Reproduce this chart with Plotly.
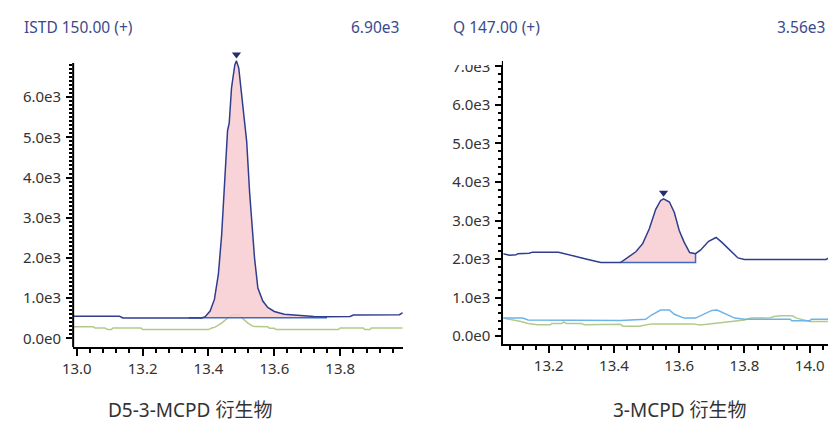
import plotly.graph_objects as go

# ---------------- data ----------------
# Left panel: ISTD 150.00 (+)  (D5-3-MCPD derivative)
left_rt = [12.99, 13.13, 13.14, 13.38, 13.39, 13.405, 13.418, 13.43, 13.44, 13.45, 13.458,
           13.463, 13.47, 13.48, 13.485, 13.492, 13.505, 13.512, 13.516, 13.525, 13.54,
           13.55, 13.565, 13.58, 13.60, 13.63, 13.68, 13.72, 13.76, 13.83, 13.84, 13.98, 13.99]
left_main = [550, 550, 510, 510, 540, 680, 970, 1590, 2570, 4030, 5170,
             5350, 6230, 6800, 6900, 6720, 5650, 5090, 4900, 3620, 1990,
             1250, 930, 770, 670, 600, 560, 545, 540, 545, 580, 590, 640]
left_green_rt = [12.99, 13.05, 13.055, 13.085, 13.095, 13.105, 13.11, 13.195, 13.20, 13.40,
                 13.41, 13.42, 13.44, 13.46, 13.475, 13.49, 13.50, 13.52, 13.535, 13.58,
                 13.585, 13.60, 13.605, 13.795, 13.80, 13.87, 13.875, 13.89, 13.895, 13.99]
left_green = [290, 290, 260, 260, 220, 220, 260, 260, 220, 220,
              260, 280, 380, 520, 590, 590, 520, 380, 300, 290,
              250, 250, 220, 220, 260, 260, 220, 220, 260, 260]
left_base_rt = [13.34, 13.76]
left_base = [515, 515]

# Right panel: Q 147.00 (+)  (3-MCPD derivative)
right_rt = [13.06, 13.08, 13.10, 13.105, 13.14, 13.15, 13.23, 13.26, 13.30, 13.32, 13.35,
            13.36, 13.42, 13.447, 13.467, 13.488, 13.508, 13.528, 13.543, 13.552, 13.57,
            13.585, 13.60, 13.615, 13.632, 13.65, 13.665, 13.69, 13.713, 13.73, 13.755,
            13.78, 13.80, 14.05, 14.058]
right_main = [2140, 2100, 2110, 2140, 2150, 2180, 2180, 2110, 2030, 1990, 1930,
              1910, 1910, 2060, 2190, 2400, 2780, 3290, 3520, 3560, 3480,
              3210, 2740, 2440, 2170, 2140, 2230, 2460, 2560, 2440, 2230,
              2030, 1990, 1990, 2030]
right_blue_rt = [13.06, 13.12, 13.137, 13.42, 13.497, 13.515, 13.543, 13.57, 13.585, 13.615,
                 13.65, 13.67, 13.70, 13.716, 13.74, 13.77, 13.80, 13.94, 13.945, 14.0,
                 14.005, 14.06]
right_blue = [470, 470, 420, 410, 440, 550, 680, 680, 570, 470,
              470, 550, 670, 680, 590, 470, 440, 440, 400, 400,
              440, 440]
right_green_rt = [13.06, 13.095, 13.115, 13.137, 13.165, 13.205, 13.21, 13.24, 13.245, 13.255,
                  13.30, 13.31, 13.42, 13.427, 13.477, 13.515, 13.64, 13.665, 13.70, 13.713,
                  13.76, 13.80, 13.82, 13.88, 13.89, 13.91, 13.947, 13.96, 14.0, 14.06]
right_green = [470, 420, 380, 330, 300, 300, 330, 330, 370, 330,
               330, 300, 310, 260, 260, 320, 320, 290, 320, 340,
               370, 420, 470, 480, 510, 530, 530, 470, 380, 380]
right_base_rt = [13.42, 13.65, 13.65]
right_base = [1910, 1910, 2140]

left_title, left_max = "ISTD 150.00 (+)", "6.90e3"
right_title, right_max = "Q 147.00 (+)", "3.56e3"
left_label = "D5-3-MCPD 衍生物"
right_label = "3-MCPD 衍生物"

left_xticks = [13.0, 13.2, 13.4, 13.6, 13.8]
right_xticks = [13.2, 13.4, 13.6, 13.8, 14.0]
left_yticks = [0, 1000, 2000, 3000, 4000, 5000, 6000]
left_yticktext = ["0.0e0", "1.0e3", "2.0e3", "3.0e3", "4.0e3", "5.0e3", "6.0e3"]
right_yticks = [0, 1000, 2000, 3000, 4000, 5000, 6000, 7000]
right_yticktext = ["0.0e0", "1.0e3", "2.0e3", "3.0e3", "4.0e3", "5.0e3", "6.0e3", "7.0e3"]

# ---------------- styles ----------------
NAVY = "#2f3d8e"
BASE = "#3f68c0"
FILL = "rgba(247,205,210,0.85)"
GREEN = "#b3c98b"
LBLUE = "#6cb3e8"
HEAD = "#3b4a8c"
FONT = "Noto Sans, Noto Sans CJK SC, sans-serif"

W, H = 828, 424
LX = [12.989, 13.99]
LY = [-220, 7250]
RX = [13.061, 14.056]
RY = [-210, 7130]
L_TOP = 338 - 7.25 * 40.9     # pixel row of the left y-range top


def in_window(xs, ys, lo, hi):
    px, py = [], []
    for a, b in zip(xs, ys):
        if lo <= a <= hi:
            px.append(a)
            py.append(b)
    return px, py


fig = go.Figure()

# ---- left panel
fig.add_trace(go.Scatter(x=left_green_rt, y=left_green, mode="lines",
                         line=dict(color=GREEN, width=1.5), xaxis="x", yaxis="y"))
fig.add_trace(go.Scatter(x=left_base_rt, y=left_base, mode="lines",
                         line=dict(color=BASE, width=1.5), xaxis="x", yaxis="y"))
fx, fy = in_window(left_rt, left_main, left_base_rt[0] + 0.04, left_base_rt[-1])
fig.add_trace(go.Scatter(x=[left_base_rt[0]] + fx + [left_base_rt[-1]],
                         y=[left_base[0]] + fy + [left_base[-1]], mode="lines",
                         line=dict(width=0), fill="tonexty", fillcolor=FILL,
                         xaxis="x", yaxis="y"))
fig.add_trace(go.Scatter(x=left_rt, y=left_main, mode="lines",
                         line=dict(color=NAVY, width=1.5), xaxis="x", yaxis="y"))
li = left_main.index(max(left_main))
fig.add_trace(go.Scatter(x=[left_rt[li]], y=[left_main[li] + 0.021 * (LY[1] - LY[0])],
                         mode="markers", cliponaxis=False,
                         marker=dict(symbol="triangle-down", size=8, color="#262e6e"),
                         xaxis="x", yaxis="y"))

# ---- right panel
fig.add_trace(go.Scatter(x=right_green_rt, y=right_green, mode="lines",
                         line=dict(color=GREEN, width=1.5), xaxis="x2", yaxis="y2"))
fig.add_trace(go.Scatter(x=right_blue_rt, y=right_blue, mode="lines",
                         line=dict(color=LBLUE, width=1.5), xaxis="x2", yaxis="y2"))
fig.add_trace(go.Scatter(x=right_base_rt, y=right_base, mode="lines",
                         line=dict(color=BASE, width=1.5), xaxis="x2", yaxis="y2"))
fx, fy = in_window(right_rt, right_main, right_base_rt[0], right_base_rt[1])
fig.add_trace(go.Scatter(x=fx, y=fy, mode="lines", line=dict(width=0),
                         fill="tonexty", fillcolor=FILL, xaxis="x2", yaxis="y2"))
fig.add_trace(go.Scatter(x=right_rt, y=right_main, mode="lines",
                         line=dict(color=NAVY, width=1.5), xaxis="x2", yaxis="y2"))
ri = right_main.index(max(right_main))
fig.add_trace(go.Scatter(x=[right_rt[ri]], y=[right_main[ri] + 0.022 * (RY[1] - RY[0])],
                         mode="markers", cliponaxis=False,
                         marker=dict(symbol="triangle-down", size=8, color="#262e6e"),
                         xaxis="x2", yaxis="y2"))

tickfont = dict(family=FONT, size=15, color="#333333")

def xaxis(dom, rng, ticks, anchor):
    return dict(domain=dom, range=rng, anchor=anchor, showgrid=False, zeroline=False,
                showline=True, linecolor="black", linewidth=2,
                tickmode="array", tickvals=ticks, ticktext=[f"{t:.1f}" for t in ticks],
                ticks="outside", ticklen=7, tickwidth=2, tickcolor="black",
                minor=dict(tickmode="linear", tick0=13.0, dtick=0.04, ticks="outside",
                           ticklen=4, tickwidth=2, tickcolor="black"),
                tickfont=tickfont, fixedrange=True)

def yaxis(dom, rng, ticks, text, minor_vals, anchor, showline):
    return dict(domain=dom, range=rng, anchor=anchor, showgrid=False, zeroline=False,
                showline=showline, linecolor="black", linewidth=2,
                tickmode="array", tickvals=ticks, ticktext=text,
                ticks="outside", ticklen=6, tickwidth=2, tickcolor="black",
                minor=dict(tickmode="array", tickvals=minor_vals, ticks="outside",
                           ticklen=3, tickwidth=1.5, tickcolor="black"),
                tickfont=tickfont, ticklabelstandoff=2, fixedrange=True)

left_minor = [v for v in range(100, 6900, 100) if v % 1000]
right_minor = [v for v in range(200, 7200, 200) if v % 1000]

fig.update_layout(
    width=W, height=H, margin=dict(l=0, r=0, t=0, b=0),
    paper_bgcolor="white", plot_bgcolor="white", showlegend=False,
    font=dict(family=FONT, color="#333333"),
    xaxis=xaxis([63 / W, 397 / W], LX, left_xticks, "y"),
    yaxis=yaxis([1 - 347 / H, 1 - L_TOP / H], LY, left_yticks, left_yticktext,
                left_minor, "x", False),
    xaxis2=xaxis([499 / W, 1.0], RX, right_xticks, "y2"),
    yaxis2=yaxis([1 - 344 / H, 1 - 56.2 / H], RY, right_yticks, right_yticktext,
                 right_minor, "x2", True),
    shapes=[
        # left y-axis line (stops just under the peak marker)
        dict(type="line", xref="x domain", yref="y", x0=0, x1=0, y0=LY[0], y1=6850,
             line=dict(color="black", width=2)),
        # white mask that clips the top of the "7.0e3" label as in the original
        dict(type="rect", xref="paper", yref="paper", x0=430 / W, x1=497.5 / W,
             y0=1 - 60 / H, y1=1 - 36 / H, fillcolor="white", line=dict(width=0),
             layer="above"),
    ],
    annotations=[
        dict(text=left_title, xref="paper", yref="paper", x=11 / W, y=1 - 21 / H,
             xanchor="left", yanchor="middle", showarrow=False,
             font=dict(family=FONT, size=15.5, color=HEAD)),
        dict(text=left_max, xref="paper", yref="paper", x=395 / W, y=1 - 21 / H,
             xanchor="right", yanchor="middle", showarrow=False,
             font=dict(family=FONT, size=15.5, color=HEAD)),
        dict(text=right_title, xref="paper", yref="paper", x=446 / W, y=1 - 21 / H,
             xanchor="left", yanchor="middle", showarrow=False,
             font=dict(family=FONT, size=15.5, color=HEAD)),
        dict(text=right_max, xref="paper", yref="paper", x=827 / W, y=1 - 21 / H,
             xanchor="right", yanchor="middle", showarrow=False,
             font=dict(family=FONT, size=15.5, color=HEAD)),
        dict(text=left_label, xref="paper", yref="paper", x=181 / W, y=1 - 411 / H,
             xanchor="center", yanchor="middle", showarrow=False,
             font=dict(family=FONT, size=19, color="#333333")),
        dict(text=right_label, xref="paper", yref="paper", x=678 / W, y=1 - 411 / H,
             xanchor="center", yanchor="middle", showarrow=False,
             font=dict(family=FONT, size=19, color="#333333")),
    ],
)

fig.write_html("out.html", config={"displayModeBar": False},
               post_script="document.body.style.margin='0';"
                           "document.body.style.overflow='hidden';")
